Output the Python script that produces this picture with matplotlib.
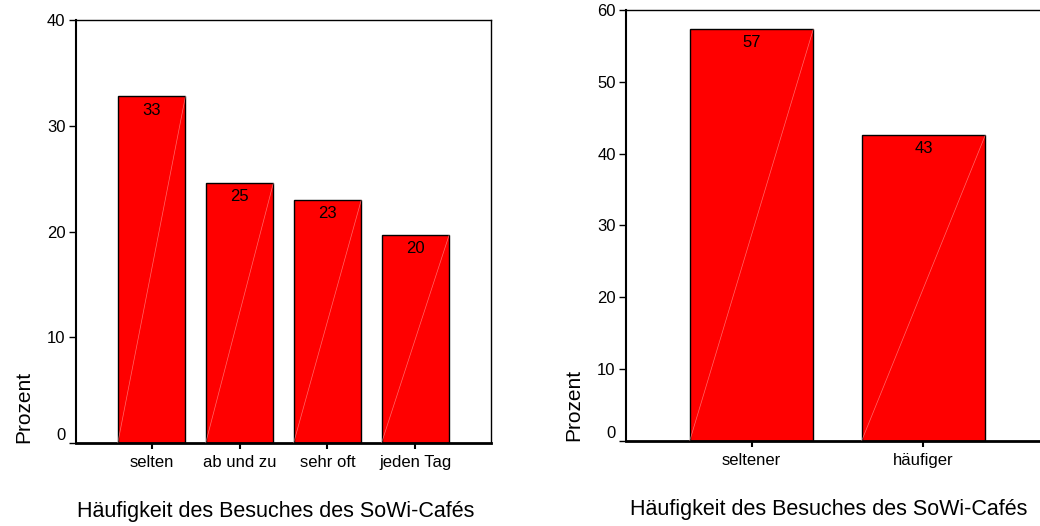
import matplotlib
matplotlib.use("Agg")
import matplotlib.pyplot as plt
import matplotlib.transforms as mtransforms

plt.rcParams["font.family"] = ["Liberation Sans", "DejaVu Sans"]

# Besuchshäufigkeit, vier Stufen
cats_4 = ["selten", "ab und zu", "sehr oft", "jeden Tag"]
pct_4 = [32.8, 24.6, 23.0, 19.7]
lbl_4 = ["33", "25", "23", "20"]

# zusammengefasst in zwei Gruppen
cats_2 = ["seltener", "häufiger"]
pct_2 = [57.4, 42.6]
lbl_2 = ["57", "43"]

XLABEL = "Häufigkeit des Besuches des SoWi-Cafés"
YLABEL = "Prozent"


def draw_panel(ax, cats, vals, labels, width, xlim, ymax, xlab_x, full_box):
    x = list(range(len(cats)))
    bars = ax.bar(x, vals, width=width, color="#ff0000", edgecolor="black", linewidth=1.0, zorder=2)
    # feine Diagonale, wie im SPSS-Export
    for b in bars:
        x0 = b.get_x()
        ax.plot([x0, x0 + b.get_width()], [0, b.get_height()], color="#ffb0b0",
                linewidth=0.5, alpha=0.6, zorder=3)
    for b, t in zip(bars, labels):
        ax.annotate(t, (b.get_x() + b.get_width() / 2, b.get_height()),
                    xytext=(0, -10), textcoords="offset points",
                    ha="center", va="center", fontsize=12, zorder=4)

    ax.set_xlim(*xlim)
    ax.set_ylim(0, ymax)
    ax.set_xticks(x)
    ax.set_xticklabels(cats, fontsize=12)
    ax.set_yticks(range(0, ymax + 1, 10))
    ax.tick_params(axis="y", labelsize=12, length=5, width=1, pad=2.5)
    ax.tick_params(axis="x", length=4, width=1.5, pad=5)

    # Null-Beschriftung etwas über die Achse schieben
    lab0 = ax.get_yticklabels()[0]
    lab0.set_transform(lab0.get_transform() +
                       mtransforms.ScaledTranslation(0, 9 / 100, ax.figure.dpi_scale_trans))

    ax.spines["bottom"].set_linewidth(2.0)
    ax.spines["left"].set_linewidth(1.5)
    ax.spines["top"].set_linewidth(1.0)
    ax.spines["right"].set_linewidth(1.0)
    ax.spines["right"].set_visible(full_box)

    ax.set_ylabel(YLABEL, fontsize=15, loc="bottom", labelpad=10)
    ax.set_xlabel(XLABEL, fontsize=15.5, labelpad=22)
    ax.xaxis.label.set_x(xlab_x)


fig = plt.figure(figsize=(10.4, 5.26), dpi=100)

ax1 = fig.add_axes([0.0731, 0.1578, 0.399, 0.804])
draw_panel(ax1, cats_4, pct_4, lbl_4, 0.77, (-0.86, 3.86), 40, 0.48, True)

ax2 = fig.add_axes([0.602, 0.1616, 0.40, 0.8194])
draw_panel(ax2, cats_2, pct_2, lbl_2, 0.72, (-0.73, 1.69), 60, 0.487, False)

fig.savefig("out.png", dpi=100)
